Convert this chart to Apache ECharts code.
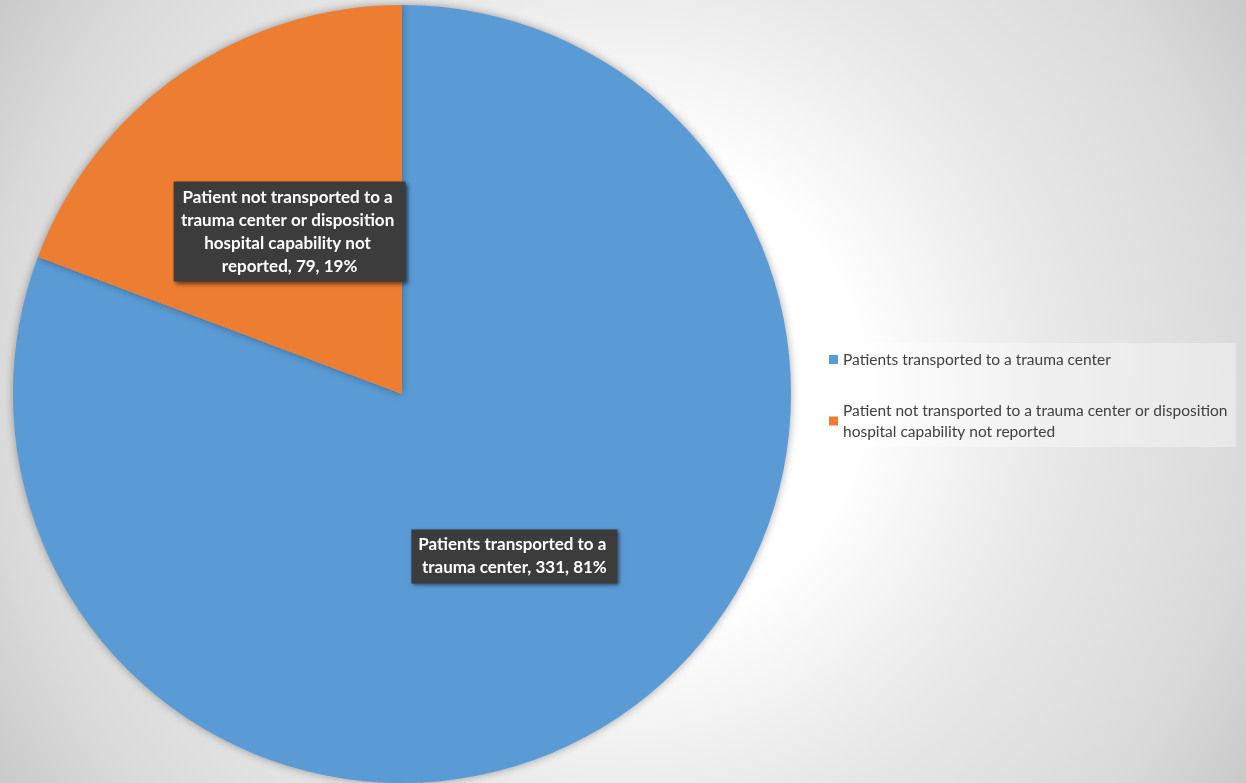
<!DOCTYPE html>
<html>
<head>
<meta charset="utf-8">
<script src="https://cdn.jsdelivr.net/npm/echarts@6/dist/echarts.min.js"></script>
<style>
  html, body { margin: 0; padding: 0; }
  #chart { width: 1246px; height: 783px; }
</style>
</head>
<body>
<div id="chart"></div>
<script>
// Patient disposition by hospital trauma capability
const categories = [
  'Patients transported to a trauma center',
  'Patient not transported to a trauma center or disposition hospital capability not reported'
];
const counts = [331, 79];
const sliceColors = ['#5B9BD5', '#ED7D31'];
const labelWidths = [196, 222];

const chart = echarts.init(document.getElementById('chart'), null, { renderer: 'canvas' });

const data = categories.map((name, i) => ({
  name: name,
  value: counts[i],
  itemStyle: { color: sliceColors[i] },
  label: { width: labelWidths[i] }
}));

chart.setOption({
  backgroundColor: {
    type: 'radial', x: 0.5, y: 0.5, r: 1,
    colorStops: [
      { offset: 0, color: '#ffffff' },
      { offset: 0.3, color: '#ffffff' },
      { offset: 0.55, color: '#e8e8e8' },
      { offset: 0.8, color: '#dadada' },
      { offset: 0.95, color: '#c8c8c8' },
      { offset: 1, color: '#c4c4c4' }
    ]
  },
  animation: false,
  legend: {
    orient: 'vertical',
    left: 820,
    top: 343,
    padding: [6, 1, 5, 9],
    backgroundColor: 'rgba(255,255,255,0.35)',
    itemWidth: 9,
    itemHeight: 9,
    itemGap: 30,
    icon: 'rect',
    textStyle: {
      fontFamily: 'Lato, "Open Sans", sans-serif',
      fontSize: 15.5,
      color: '#404040',
      lineHeight: 21,
      width: 392,
      overflow: 'break'
    },
    data: categories
  },
  series: [{
    type: 'pie',
    center: [402, 394],
    radius: 389,
    startAngle: 90,
    clockwise: true,
    percentPrecision: 0,
    avoidLabelOverlap: false,
    itemStyle: {
      shadowBlur: 8,
      shadowColor: 'rgba(0,0,0,0.35)'
    },
    label: {
      show: true,
      position: 'inside',
      formatter: '{b}, {c}, {d}%',
      fontFamily: 'Lato, "Open Sans", sans-serif',
      fontWeight: 'bold',
      fontSize: 17,
      lineHeight: 23,
      color: '#ffffff',
      overflow: 'break',
      align: 'center',
      backgroundColor: '#3c3c3c',
      padding: [4, 5, 4, 5],
      shadowColor: 'rgba(0,0,0,0.55)',
      shadowBlur: 4,
      shadowOffsetX: 2,
      shadowOffsetY: 2
    },
    labelLine: { show: false },
    emphasis: { disabled: true },
    data: data
  }]
});
</script>
</body>
</html>
